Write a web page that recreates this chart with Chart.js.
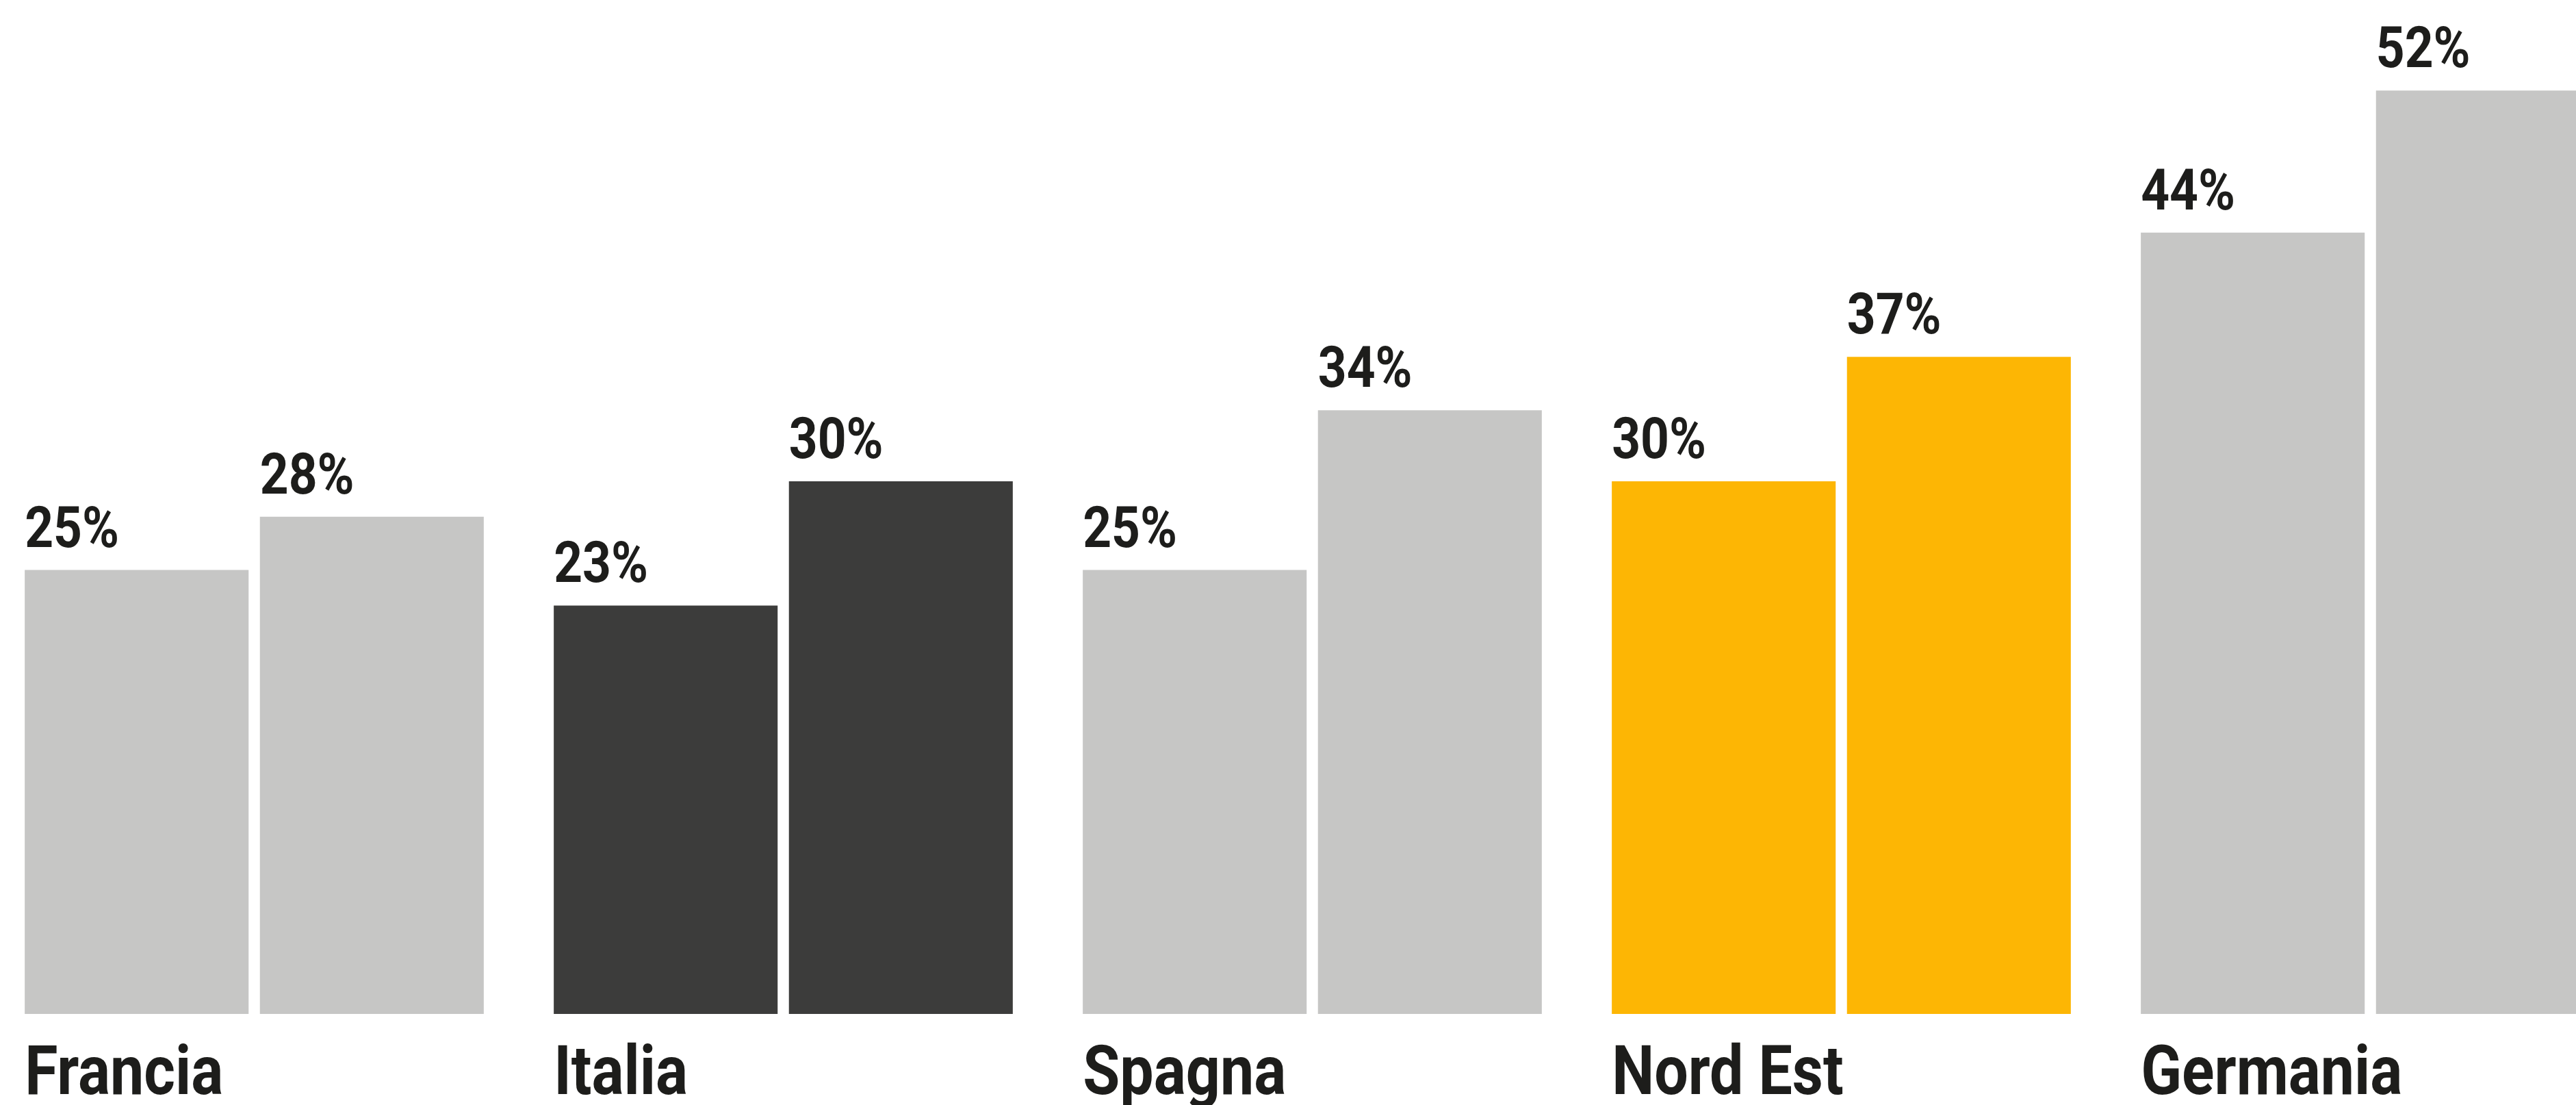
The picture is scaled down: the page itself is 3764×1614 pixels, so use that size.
<!DOCTYPE html>
<html lang="it">
<head>
  <meta charset="UTF-8">
  <title>Confronto paesi</title>
  <script src="https://cdn.jsdelivr.net/npm/chart.js"></script>
  <style>
    * { margin: 0; padding: 0; box-sizing: border-box; }
    html, body {
      width: 3764px;
      height: 1614px;
      overflow: hidden;
      background: #ffffff;
    }
    .wrap {
      position: absolute;
      left: -15px;
      top: 0;
      width: 3865px;
      height: 1614px;
    }
  </style>
</head>
<body>
  <div class="wrap">
    <canvas id="chart"></canvas>
  </div>

  <script>
    const categories = ["Francia", "Italia", "Spagna", "Nord Est", "Germania"];
    const firstValues = [25, 23, 25, 30, 44];
    const secondValues = [28, 30, 34, 37, 52];
    const barColors = ["#c6c6c5", "#3c3c3b", "#c6c6c5", "#fdb604", "#c6c6c5"];

    const FONT = "Roboto, 'DejaVu Sans', sans-serif";
    const TEXT = "#1d1d1b";
    const SQUEEZE = 0.87; // the original face is a narrow DIN

    function narrowText(ctx, text, x, y) {
      ctx.save();
      ctx.translate(x, y);
      ctx.scale(SQUEEZE, 1);
      ctx.fillText(text, 0, 0);
      ctx.restore();
    }

    // value labels above the bars and category names under each pair,
    // both left aligned on the bar edges
    const barText = {
      id: "barText",
      afterDatasetsDraw(chart) {
        const ctx = chart.ctx;
        ctx.save();
        ctx.fillStyle = TEXT;
        ctx.textAlign = "left";
        ctx.textBaseline = "alphabetic";

        ctx.font = "bold 84px " + FONT;
        chart.data.datasets.forEach((ds, i) => {
          chart.getDatasetMeta(i).data.forEach((bar, j) => {
            narrowText(ctx, ds.data[j] + "%", bar.x - bar.width / 2, bar.y - 34);
          });
        });

        ctx.font = "bold 101px " + FONT;
        const first = chart.getDatasetMeta(0).data;
        chart.data.labels.forEach((label, j) => {
          const bar = first[j];
          narrowText(ctx, label, bar.x - bar.width / 2, chart.chartArea.bottom + 117);
        });
        ctx.restore();
      }
    };

    new Chart(document.getElementById("chart"), {
      type: "bar",
      data: {
        labels: categories,
        datasets: [
          { data: firstValues, backgroundColor: barColors },
          { data: secondValues, backgroundColor: barColors }
        ]
      },
      options: {
        responsive: true,
        maintainAspectRatio: false,
        animation: false,
        categoryPercentage: 0.889,
        barPercentage: 0.952,
        layout: { padding: { top: 0, left: 0, right: 0, bottom: 133 } },
        plugins: {
          legend: { display: false },
          tooltip: { enabled: false }
        },
        scales: {
          x: { display: false },
          y: {
            display: false,
            min: 0,
            max: 57.1
          }
        }
      },
      plugins: [barText]
    });
  </script>
</body>
</html>
